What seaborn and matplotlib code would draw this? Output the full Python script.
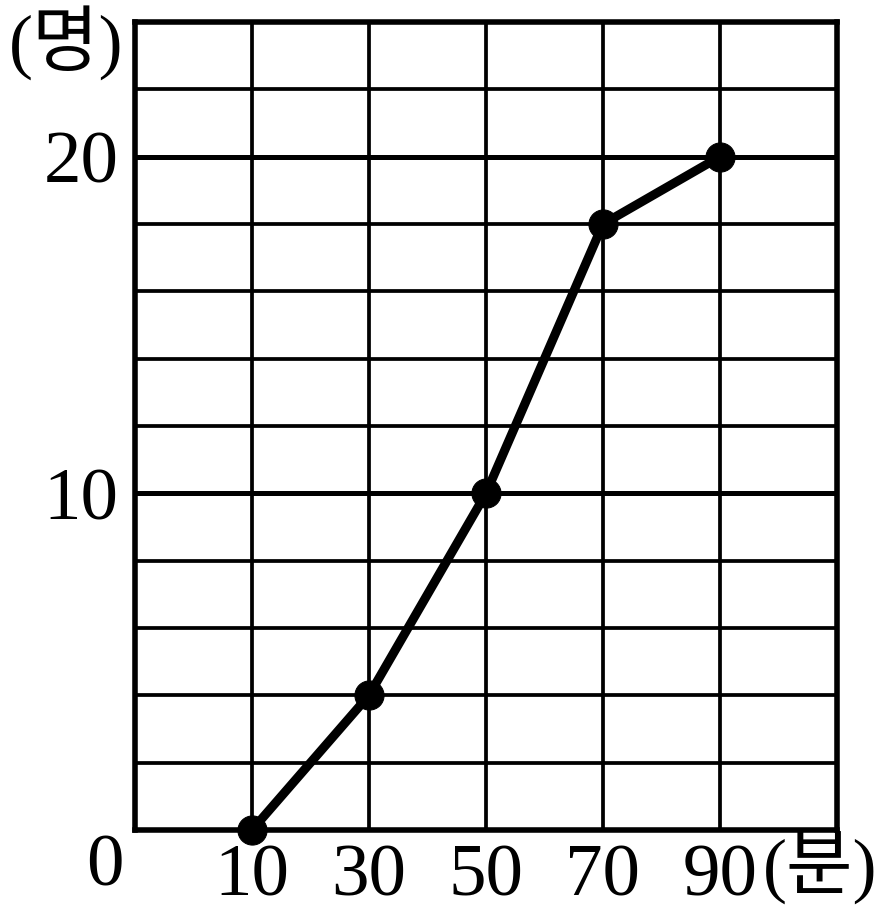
import numpy as np
import seaborn as sns
import matplotlib.pyplot as plt
import pandas as pd

# 통학 시간 누적도수 (계급값 기준)
minutes = [10, 30, 50, 70, 90]
students = [0, 4, 10, 18, 20]
x_labels = ['10', '30', '50', '70', '90']
y_labels = ['10', '20']

df = pd.DataFrame({'minutes': minutes, 'students': students})

sns.set_style('white')
fonts = ['Liberation Serif', 'Noto Sans CJK KR', 'DejaVu Sans']
plt.rcParams['font.family'] = fonts
plt.rcParams['text.color'] = 'black'
plt.rcParams['xtick.color'] = 'black'
plt.rcParams['ytick.color'] = 'black'

fig = plt.figure(figsize=(8.9, 9.24), dpi=100)
ax = fig.add_axes([135 / 890, 1 - 830 / 924, 702 / 890, 808 / 924])

sns.lineplot(data=df, x='minutes', y='students', ax=ax, color='black',
             linewidth=6.5, marker='o', markersize=21, markeredgecolor='black',
             clip_on=False, zorder=5)

ax.set_xlim(-10, 110)
ax.set_ylim(0, 24)

# grid
ax.set_xticks(minutes)
ax.set_xticklabels(x_labels)
ax.set_xticks(np.arange(-10, 111, 20), minor=True)
ax.set_yticks([10, 20])
ax.set_yticklabels(y_labels)
ax.set_yticks(np.arange(0, 25, 2), minor=True)
ax.grid(which='minor', color='black', linewidth=2.7)
ax.grid(which='major', axis='y', color='black', linewidth=3.6)
ax.grid(which='major', axis='x', color='black', linewidth=2.7)
ax.set_axisbelow(True)
ax.tick_params(which='both', length=0, colors='black')
ax.tick_params(axis='x', pad=10, labelsize=54)
ax.tick_params(axis='y', pad=12, labelsize=54)

for s in ax.spines.values():
    s.set_visible(True)
    s.set_color('black')
    s.set_linewidth(4.0)

ax.set_xlabel('')
ax.set_ylabel('')

fig.text(105 / 890, 1 - 868 / 924, '0', ha='center', va='center', fontsize=54)
fig.text(763 / 890, 1 - 868 / 924, '(분)', ha='left', va='center', fontsize=52)
fig.text(66 / 890, 1 - 43 / 924, '(명)', ha='center', va='center', fontsize=52)

fig.savefig('out.png', dpi=100)
